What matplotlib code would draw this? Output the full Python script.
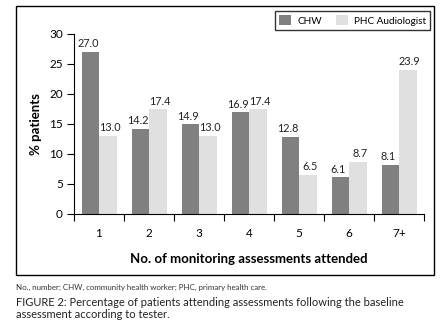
import numpy as np
import matplotlib.pyplot as plt
from matplotlib.patches import Rectangle

plt.rcParams['font.family'] = ['Lato', 'DejaVu Sans']

# data
categories = ["1", "2", "3", "4", "5", "6", "7+"]
chw = [27.0, 14.2, 14.9, 16.9, 12.8, 6.1, 8.1]
phc = [13.0, 17.4, 13.0, 17.4, 6.5, 8.7, 23.9]
series_names = ["CHW", "PHC Audiologist"]

W, H = 447, 327
fig = plt.figure(figsize=(W / 100, H / 100), dpi=100)

# frame around the chart
fig.patches.append(Rectangle((16 / W, 1 - 275 / H), 418 / W, 269 / H,
                             transform=fig.transFigure, fill=False,
                             edgecolor="black", linewidth=1.0))

ax = fig.add_axes([74 / W, 1 - 214 / H, 350 / W, 180.5 / H])

x = np.arange(1, len(categories) + 1)
bw = 0.35
b1 = ax.bar(x - bw / 2, chw, bw, color="#808080", label=series_names[0])
b2 = ax.bar(x + bw / 2, phc, bw, color="#e0e0e0", label=series_names[1])

# value labels, nudged apart a little so neighbours don't collide
for bars, vals, dx in [(b1, chw, -1.5), (b2, phc, 1.5)]:
    for b, v in zip(bars, vals):
        ax.annotate(f"{v:.1f}", (b.get_x() + b.get_width() / 2, v),
                    xytext=(dx, 2), textcoords="offset points",
                    ha="center", va="bottom", fontsize=7.8, color="#222222")

ax.set_xlim(0.5, 7.5)
ax.set_ylim(0, 30)
ax.set_yticks([0, 5, 10, 15, 20, 25, 30])
ax.set_xticks(np.arange(0.5, 8, 1))
ax.set_xticklabels([])
ax.set_xticks(x, minor=True)
ax.set_xticklabels(categories, minor=True)
ax.tick_params(axis="x", which="minor", length=0, pad=10, labelsize=8.5)
ax.tick_params(axis="x", which="major", length=5, direction="out")
ax.tick_params(axis="y", length=5, labelsize=8.5, pad=3)

for s in ["top", "right"]:
    ax.spines[s].set_visible(False)

ax.set_ylabel("% patients", fontsize=9.5, fontweight="bold", labelpad=5)
ax.set_xlabel("No. of monitoring assessments attended", fontsize=9.5,
              fontweight="bold", labelpad=10)

leg = fig.legend(handles=[b1, b2], loc="upper right",
                 bbox_to_anchor=(430 / W, 1 - 11 / H), borderaxespad=0,
                 ncol=2, fontsize=7.2, frameon=True, fancybox=False,
                 edgecolor="black", handlelength=1.2, handleheight=1.2,
                 columnspacing=1.4, handletextpad=0.6, borderpad=0.4)
leg.get_frame().set_linewidth(1.0)

fig.text(16 / W, 1 - 287 / H,
         "No., number; CHW, community health worker; PHC, primary health care.",
         fontsize=5.7, color="#333333", va="center")
fig.text(16 / W, 1 - 303 / H,
         "FIGURE 2: Percentage of patients attending assessments following the baseline",
         fontsize=8.0, color="#222222", va="center")
fig.text(16 / W, 1 - 315 / H, "assessment according to tester.",
         fontsize=8.0, color="#222222", va="center")

fig.savefig("out.png", dpi=100)
